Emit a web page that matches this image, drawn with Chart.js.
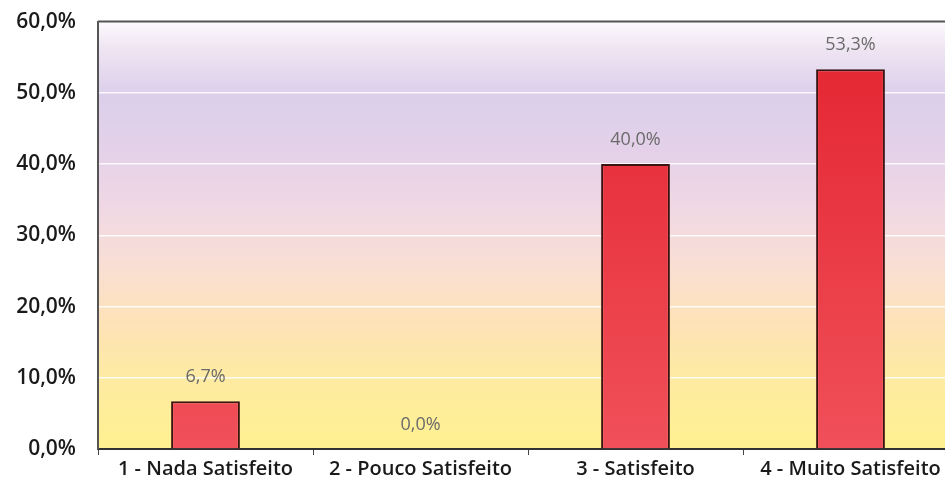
<!DOCTYPE html>
<html>
<head>
<meta charset="utf-8">
<script src="https://cdn.jsdelivr.net/npm/chart.js@4"></script>
<style>
html,body{margin:0;padding:0;background:#fff;overflow:hidden;width:945px;height:495px;position:relative;}
#wrap{position:absolute;left:0;top:-13px;width:958px;height:508px;}
</style>
</head>
<body>
<div id="wrap"><canvas id="c" width="958" height="508"></canvas></div>
<script>
const categories = ["1 - Nada Satisfeito", "2 - Pouco Satisfeito", "3 - Satisfeito", "4 - Muito Satisfeito"];
const values = [6.7, 0.0, 40.0, 53.3];
const yTicks = [0, 10, 20, 30, 40, 50, 60];

const fmt = v => v.toFixed(1).replace('.', ',') + '%';

const bgPlugin = {
  id: 'bg',
  beforeDraw(chart) {
    const {ctx, chartArea: a} = chart;
    const g = ctx.createLinearGradient(0, a.top, 0, a.bottom);
    g.addColorStop(0.00, '#fdfafd');
    g.addColorStop(0.06, '#efe6f3');
    g.addColorStop(0.17, '#dbcfea');
    g.addColorStop(0.30, '#e4d1e9');
    g.addColorStop(0.45, '#f1d9e3');
    g.addColorStop(0.58, '#f9dfd2');
    g.addColorStop(0.70, '#fde2b8');
    g.addColorStop(0.82, '#feeaa4');
    g.addColorStop(1.00, '#fff190');
    ctx.save();
    ctx.fillStyle = g;
    ctx.fillRect(a.left, a.top, a.right - a.left, a.bottom - a.top);
    ctx.restore();
  },
  afterDraw(chart) {
    const {ctx, chartArea: a} = chart;
    ctx.save();
    ctx.strokeStyle = '#555';
    ctx.lineWidth = 2;
    ctx.beginPath();
    ctx.moveTo(a.left, a.top);
    ctx.lineTo(a.right, a.top);
    ctx.stroke();
    ctx.restore();
  }
};

const labelPlugin = {
  id: 'lbl',
  afterDatasetsDraw(chart) {
    const {ctx} = chart;
    const meta = chart.getDatasetMeta(0);
    ctx.save();
    ctx.font = '18px "Open Sans", sans-serif';
    ctx.fillStyle = '#6b6b6b';
    ctx.textAlign = 'center';
    ctx.textBaseline = 'middle';
    meta.data.forEach((bar, i) => {
      ctx.fillText(fmt(values[i]), bar.x, bar.y - 24);
    });
    ctx.restore();
  }
};

const ctx = document.getElementById('c').getContext('2d');
const barGrad = (context) => {
  const chart = context.chart;
  const a = chart.chartArea;
  if (!a) return '#e53238';
  const g = chart.ctx.createLinearGradient(0, a.top, 0, a.bottom);
  g.addColorStop(0, '#e3232f');
  g.addColorStop(1, '#f0505a');
  return g;
};

new Chart(ctx, {
  type: 'bar',
  data: {
    labels: categories,
    datasets: [{
      data: values,
      backgroundColor: barGrad,
      borderColor: '#3a1412',
      borderWidth: 2,
      borderSkipped: 'bottom',
      barPercentage: 0.32,
      categoryPercentage: 1.0
    }]
  },
  options: {
    responsive: false,
    animation: false,
    layout: { padding: { top: 6, right: 0, left: 0, bottom: 0 } },
    plugins: { legend: { display: false }, tooltip: { enabled: false } },
    scales: {
      x: {
        offset: true,
        grid: {
          display: true,
          drawOnChartArea: false,
          drawTicks: true,
          tickLength: 6,
          color: '#444',
          offset: true
        },
        border: { display: true, color: '#333', width: 2 },
        ticks: {
          color: '#1a1a1a',
          font: { family: '"Open Sans", sans-serif', size: 20, weight: '600' },
          padding: 2,
          maxRotation: 0,
          autoSkip: false
        },
        afterFit(scale) { scale.height = 46; }
      },
      y: {
        min: 0,
        max: 60,
        afterBuildTicks(scale) { scale.ticks = yTicks.map(v => ({value: v})); },
        grid: {
          color: 'rgba(255,255,255,0.85)',
          lineWidth: 1.5,
          drawTicks: false
        },
        border: { display: true, color: '#555', width: 2 },
        ticks: {
          color: '#1a1a1a',
          font: { family: '"Open Sans", sans-serif', size: 21, weight: '600' },
          padding: 22,
          callback: v => fmt(v)
        },
        afterFit(scale) { scale.width = 98; }
      }
    }
  },
  plugins: [bgPlugin, labelPlugin]
});
</script>
</body>
</html>
